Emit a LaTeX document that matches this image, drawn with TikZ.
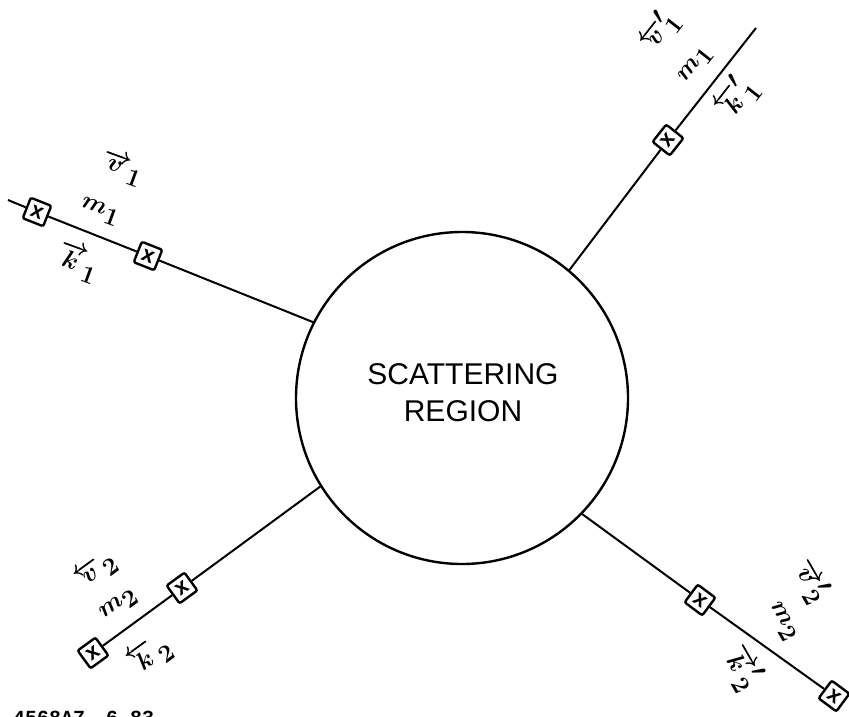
\documentclass[tikz,border=0pt]{standalone}
\usepackage{fontspec}
\newfontfamily\lettering{Liberation Sans}
\newfontfamily\monofam{Liberation Mono}
\begin{document}
\begin{tikzpicture}[x=1pt,y=-1pt,
  beam/.style={line width=2pt},
  det/.style={draw, line width=2.4pt, minimum size=22pt, inner sep=0pt, rounded corners=2pt,
              font=\lettering\bfseries\fontsize{22}{22}\selectfont},
  lbl/.style={inner sep=0pt, font=\fontsize{36}{36}\selectfont\boldmath},
]
\useasboundingbox (0,0) rectangle (849,717);
% scattering region
\node[circle, draw, line width=2.4pt, minimum size=332pt, inner sep=0pt] (C) at (462,398) {};
\node[align=center, inner sep=0pt, font=\lettering\fontsize{30}{37}\selectfont] (T) at (463,393) {SCATTERING\\REGION};
% upper-left arm
\coordinate (ule) at (8,200);
\node[det, rotate=-21.7] (ul1) at (37,212) {x};
\node[det, rotate=-21.7] (ul2) at (148,256) {x};
\draw[beam] (ule) -- (ul1) -- (ul2) -- (C.153);
\node[lbl, rotate=-20] (ulv) at (122,168) {$\overrightarrow{v}_{1}$};
\node[lbl, rotate=-20] (ulm) at (100,212) {$m_{1}$};
\node[lbl, rotate=-20] (ulk) at (78,262) {$\overrightarrow{k}_{1}$};
% upper-right arm
\coordinate (ure) at (756,28);
\node[det, rotate=51.7] (ur1) at (668,140) {x};
\draw[beam] (C.50.5) -- (ur1) -- (ure);
\node[lbl, rotate=52] (urv) at (659,31) {$\overleftarrow{v}'_{1}$};
\node[lbl, rotate=52] (urm) at (696,65) {$m_{1}$};
\node[lbl, rotate=52] (urk) at (736,97) {$\overleftarrow{k}'_{1}$};
% lower-left arm
\node[det, rotate=36] (ll1) at (182,588) {x};
\node[det, rotate=36] (ll2) at (93,653) {x};
\draw[beam] (C.212.4) -- (ll1) -- (ll2);
\node[lbl, rotate=36] (llv) at (96,571) {$\overleftarrow{v}_{2}$};
\node[lbl, rotate=36] (llm) at (119,605) {$m_{2}$};
\node[lbl, rotate=36] (llk) at (150,655) {$\overleftarrow{k}_{2}$};
% lower-right arm
\node[det, rotate=-36.5] (lr1) at (700,600) {x};
\node[det, rotate=-36.5] (lr2) at (834,696) {x};
\draw[beam] (C.316.8) -- (lr1) -- (lr2);
\node[lbl, rotate=-60] (lrv) at (811,581) {$\overrightarrow{v}'_{2}$};
\node[lbl, rotate=-60] (lrm) at (782,622) {$m_{2}$};
\node[lbl, rotate=-60] (lrk) at (743,668) {$\overrightarrow{k}'_{2}$};
% figure id
\node[anchor=base west, inner sep=0pt, font=\monofam\bfseries\fontsize{20}{20}\selectfont] (fid) at (13,724) {4568A7\hspace{21pt}6-83};
\end{tikzpicture}
\end{document}
